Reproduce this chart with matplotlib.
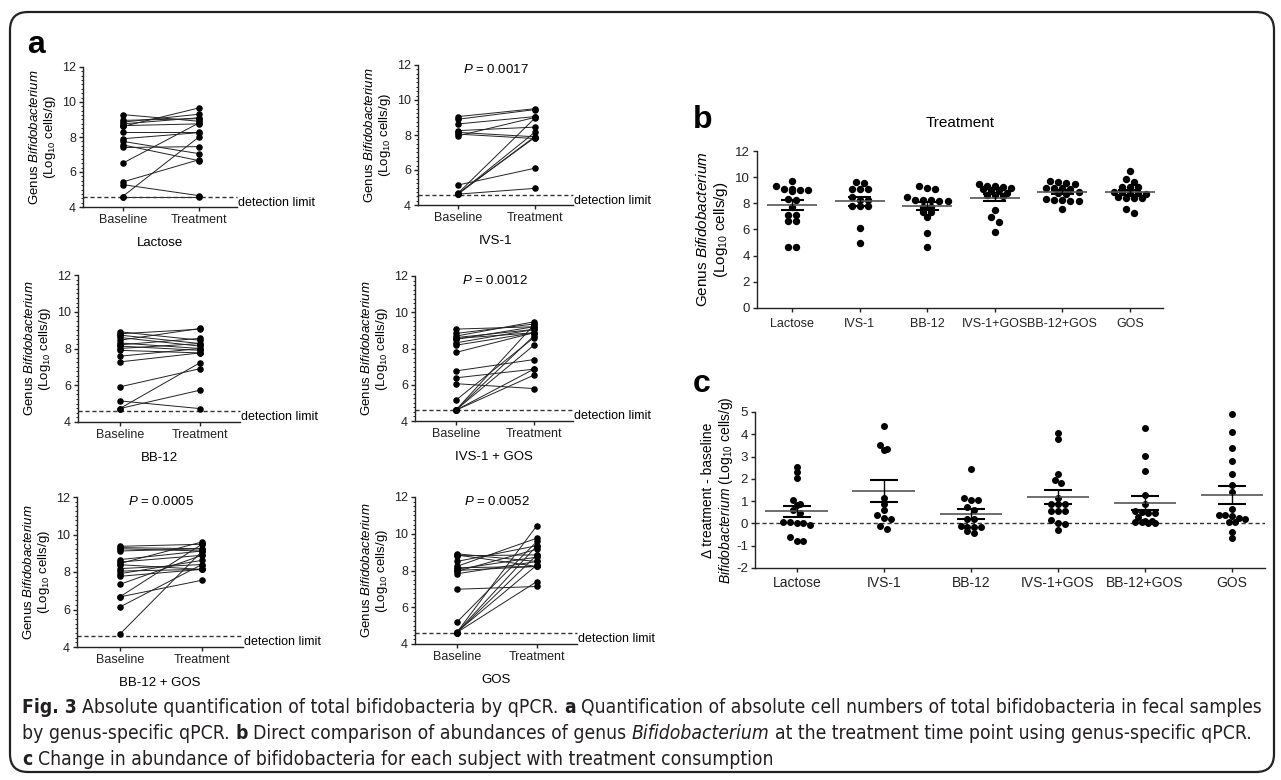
import os

import numpy as np
import matplotlib
matplotlib.use('Agg')
import matplotlib.pyplot as plt
from matplotlib import font_manager, transforms
from matplotlib.font_manager import FontProperties
from matplotlib.patches import FancyBboxPatch
from matplotlib.ticker import MultipleLocator

W, H = 1281, 780

plt.rcParams['font.family'] = ['Liberation Sans', 'DejaVu Sans']
plt.rcParams['mathtext.fontset'] = 'custom'
plt.rcParams['mathtext.rm'] = 'Liberation Sans'
plt.rcParams['mathtext.it'] = 'Liberation Sans:italic'
plt.rcParams['mathtext.bf'] = 'Liberation Sans:bold'
plt.rcParams['axes.unicode_minus'] = False

# =========================================================================== #
# Data

groups = ['Lactose', 'IVS-1', 'BB-12', 'IVS-1+GOS', 'BB-12+GOS', 'GOS']
panel_a_titles = ['Lactose', 'IVS-1', 'BB-12', 'IVS-1 + GOS', 'BB-12 + GOS', 'GOS']
p_values = [None, '0.0017', None, '0.0012', '0.0005', '0.0052']
detection_limit = 4.6

# panel a: baseline / treatment per subject
lactose_base = [9.28, 8.95, 8.85, 8.75, 8.65, 8.6, 8.3, 7.9, 7.75, 7.55, 7.4, 6.5, 5.43, 5.28, 4.6, 4.6]
lactose_treat = [8.9, 9.05, 9.3, 9.1, 8.75, 9.66, 8.3, 8.25, 7.05, 6.65, 7.45, 8.8, 6.7, 4.65, 8.0, 4.6]
ivs1_base = [9.05, 8.9, 8.63, 8.25, 8.15, 8.05, 7.95, 5.14, 4.67, 4.62, 4.62, 4.65, 4.62]
ivs1_treat = [9.5, 9.45, 9.05, 8.45, 7.9, 7.8, 9.0, 6.1, 8.95, 8.15, 7.9, 7.85, 4.95]
bb12_base = [8.91, 8.8, 8.73, 8.6, 8.45, 8.3, 8.2, 8.13, 8.0, 7.9, 7.58, 7.27, 5.91, 5.15, 4.73, 4.73]
bb12_treat = [8.45, 9.05, 8.27, 8.13, 9.09, 8.0, 8.55, 7.9, 8.27, 7.76, 8.0, 7.76, 6.9, 4.73, 7.22, 5.73]
ivs1gos_base = [9.07, 8.83, 8.68, 8.6, 8.55, 8.5, 8.31, 8.18, 7.78, 6.76, 6.38, 6.06, 5.14, 4.59, 4.59, 4.59, 4.59, 4.6]
ivs1gos_treat = [9.2, 9.35, 9.47, 9.05, 8.87, 9.2, 9.05, 8.87, 8.87, 7.39, 6.86, 5.79, 8.6, 9.3, 8.7, 6.53, 6.86, 8.18]
bb12gos_base = [9.37, 9.3, 9.24, 9.12, 8.66, 8.53, 8.45, 8.39, 8.18, 8.05, 7.91, 7.77, 7.34, 6.67, 6.67, 6.13, 4.68]
bb12gos_treat = [9.48, 9.24, 9.12, 9.24, 9.12, 8.89, 9.6, 8.14, 8.4, 8.14, 8.62, 8.14, 8.89, 7.56, 9.48, 8.4, 9.1]
gos_base = [8.91, 8.85, 8.8, 8.49, 8.22, 8.15, 8.07, 7.95, 7.82, 6.98, 5.18, 4.62, 4.62, 4.62, 4.62, 4.65, 8.0]
gos_treat = [8.49, 8.22, 8.85, 9.35, 9.76, 8.22, 8.73, 9.16, 8.49, 7.13, 9.58, 10.44, 9.35, 8.85, 7.4, 8.3, 8.22]

# panel b: treatment time point
b_lactose = [9.73, 9.35, 9.1, 9.1, 9.02, 9.02, 8.97, 8.36, 8.25, 7.75, 7.1, 7.1, 6.68, 6.68, 4.69, 4.69]
b_ivs1 = [9.6, 9.53, 9.07, 9.07, 9.07, 8.51, 8.25, 8.25, 7.8, 7.8, 7.8, 6.14, 4.94]
b_bb12 = [9.33, 9.15, 9.1, 8.46, 8.25, 8.25, 8.25, 8.2, 8.2, 7.75, 7.75, 7.35, 7.35, 6.93, 5.7, 4.69]
b_ivs1gos = [9.45, 9.33, 9.33, 9.22, 9.15, 9.07, 9.02, 9.0, 8.8, 8.6, 8.6, 8.55, 7.49, 6.93, 6.6, 5.78]
b_bb12gos = [9.7, 9.6, 9.55, 9.5, 9.2, 9.2, 9.15, 9.1, 8.85, 8.8, 8.75, 8.3, 8.25, 8.25, 8.2, 8.2, 7.6]
b_gos = [10.5, 9.83, 9.66, 9.27, 9.22, 9.22, 8.9, 8.85, 8.8, 8.8, 8.75, 8.45, 8.4, 8.4, 8.4, 7.55, 7.24]

# panel c: treatment - baseline
c_lactose = [2.53, 2.31, 2.04, 1.04, 0.89, 0.82, 0.6, 0.45, 0.07, 0.07, 0.03, 0.0, -0.07, -0.6, -0.77, -0.77]
c_ivs1 = [4.35, 3.5, 3.32, 3.28, 1.12, 0.89, 0.6, 0.37, 0.25, 0.22, -0.12, -0.27]
c_bb12 = [2.46, 1.16, 1.07, 1.04, 0.75, 0.6, 0.2, 0.18, -0.12, -0.15, -0.18, -0.18, -0.33, -0.45]
c_ivs1gos = [4.05, 3.8, 2.24, 1.94, 1.82, 1.15, 0.86, 0.86, 0.86, 0.58, 0.58, 0.58, 0.15, 0.03, -0.04, -0.3]
c_bb12gos = [4.28, 3.01, 2.34, 1.27, 0.89, 0.55, 0.5, 0.45, 0.45, 0.3, 0.12, 0.1, 0.06, 0.06, 0.0, 0.0]
c_gos = [4.92, 4.1, 3.4, 2.8, 2.24, 1.71, 1.42, 0.64, 0.37, 0.37, 0.33, 0.25, 0.18, 0.07, 0.07, -0.39, -0.64]

paired = [
    (lactose_base, lactose_treat), (ivs1_base, ivs1_treat),
    (bb12_base, bb12_treat), (ivs1gos_base, ivs1gos_treat),
    (bb12gos_base, bb12gos_treat), (gos_base, gos_treat),
]
b_values = [b_lactose, b_ivs1, b_bb12, b_ivs1gos, b_bb12gos, b_gos]
c_values = [c_lactose, c_ivs1, c_bb12, c_ivs1gos, c_bb12gos, c_gos]

caption = [
    [('Fig. 3', 'bold'),
     ('Absolute quantification of total bifidobacteria by qPCR.', 'normal'),
     ('a', 'bold'),
     ('Quantification of absolute cell numbers of total bifidobacteria in fecal samples', 'normal')],
    [('by genus-specific qPCR.', 'normal'),
     ('b', 'bold'),
     ('Direct comparison of abundances of genus', 'normal'),
     ('Bifidobacterium', 'italic'),
     ('at the treatment time point using genus-specific qPCR.', 'normal')],
    [('c', 'bold'),
     ('Change in abundance of bifidobacteria for each subject with treatment consumption', 'normal')],
]

# =========================================================================== #
# Helpers

fig = plt.figure(figsize=(W / 100, H / 100), dpi=100)

bg = fig.add_axes([0, 0, 1, 1], zorder=-1)
bg.set_xlim(0, W)
bg.set_ylim(H, 0)
bg.axis('off')


def axes_px(left, top, right, bottom):
    return fig.add_axes([left / W, 1 - bottom / H, (right - left) / W, (bottom - top) / H])


def style(ax, labelsize):
    for side in ['top', 'right']:
        ax.spines[side].set_visible(False)
    for side in ['left', 'bottom']:
        ax.spines[side].set_linewidth(1.0)
        ax.spines[side].set_color('#222222')
    ax.tick_params(direction='out', length=3, width=1, labelsize=labelsize,
                   pad=2, colors='#222222')
    ax.patch.set_alpha(0)


def swarm(values, center, row_height, step):
    vals = np.asarray(values, float)
    order = np.argsort(vals)[::-1]
    xs = np.empty_like(vals)
    row = []

    def flush(row):
        k = len(row)
        for j, idx in enumerate(row):
            xs[idx] = center + (j - (k - 1) / 2) * step

    for idx in order:
        if row and vals[row[0]] - vals[idx] > row_height:
            flush(row)
            row = []
        row.append(idx)
    if row:
        flush(row)
    return xs


ylabel_a = 'Genus $\\mathit{Bifidobacterium}$\n(Log$_{10}$ cells/g)'

# =========================================================================== #
# Panel a

a_rects = [
    (83, 67, 237, 207), (418, 65, 573, 205),
    (78, 275, 240, 422), (415, 276, 573, 421),
    (77, 497, 243, 647), (415, 497, 577, 644),
]

for (base, treat), rect, title, p in zip(paired, a_rects, panel_a_titles, p_values):
    ax = axes_px(*rect)
    style(ax, 9)
    for b, t in zip(base, treat):
        ax.plot([0, 1], [b, t], color='#222222', lw=0.7, zorder=2)
    ax.plot(np.zeros(len(base)), base, 'o', ms=3.7, color='k', zorder=3, clip_on=False)
    ax.plot(np.ones(len(treat)), treat, 'o', ms=3.7, color='k', zorder=3, clip_on=False)
    ax.axhline(detection_limit, ls=(0, (3, 2)), color='#333333', lw=1.0, clip_on=False)
    trans = transforms.blended_transform_factory(ax.transAxes, ax.transData)
    ax.text(1.005, 4.25, 'detection limit', transform=trans, ha='left', va='center',
            fontsize=9, clip_on=False)
    if p:
        ax.text(0.5, 11.75, '$P$ = ' + p, ha='center', va='center', fontsize=9.5)
    ax.set_xlim(-0.52, 1.5)
    ax.set_ylim(4, 12)
    ax.set_yticks([4, 6, 8, 10, 12])
    ax.yaxis.set_minor_locator(MultipleLocator(0.25))
    ax.tick_params(axis='y', which='minor', length=1.5, width=0.6)
    ax.set_xticks([0, 1])
    ax.set_xticklabels(['Baseline', 'Treatment'])
    ax.set_ylabel(ylabel_a, fontsize=9.5, linespacing=1.1, labelpad=3)
    ax.set_xlabel(title, fontsize=9.5, labelpad=8)

bg.text(27, 53, 'a', fontsize=23, fontweight='bold', ha='left', va='baseline')

# =========================================================================== #
# Panel b

axb = axes_px(757, 151, 1163, 308)
style(axb, 9.5)
for i, vals in enumerate(b_values):
    pos = i + 1
    xs = swarm(vals, pos, 0.35, 0.12)
    axb.plot(xs, vals, 'o', ms=4.3, color='k', zorder=3, clip_on=False)
    m = np.mean(vals)
    se = np.std(vals, ddof=1) / np.sqrt(len(vals))
    axb.hlines(m, pos - 0.37, pos + 0.37, color='#555555', lw=1.2, zorder=4)
    axb.hlines([m - se, m + se], pos - 0.17, pos + 0.17, color='k', lw=1.5, zorder=4)
    axb.vlines(pos, m - se, m + se, color='k', lw=1.0, zorder=4)
axb.set_xlim(0.48, 6.49)
axb.set_ylim(0, 12)
axb.set_yticks(range(0, 13, 2))
axb.set_xticks(range(1, 7))
axb.set_xticklabels(groups, fontsize=9)
axb.tick_params(axis='x', pad=4)
axb.set_ylabel(ylabel_a, fontsize=11, linespacing=1.1, labelpad=4)

bg.text(693, 128, 'b', fontsize=23, fontweight='bold', ha='left', va='baseline')
bg.text(960, 123, 'Treatment', fontsize=11, ha='center', va='center')

# =========================================================================== #
# Panel c

axc = axes_px(755, 412, 1265, 568)
style(axc, 9.5)
axc.axhline(0, ls=(0, (3, 2)), color='#333333', lw=1.0, zorder=1)
for i, vals in enumerate(c_values):
    pos = i + 1
    xs = swarm(vals, pos, 0.2, 0.077)
    axc.plot(xs, vals, 'o', ms=4.0, color='k', zorder=3, clip_on=False)
    m = np.mean(vals)
    se = np.std(vals, ddof=1) / np.sqrt(len(vals))
    axc.hlines(m, pos - 0.36, pos + 0.36, color='#555555', lw=1.2, zorder=4)
    axc.hlines([m - se, m + se], pos - 0.16, pos + 0.16, color='k', lw=1.5, zorder=4)
    axc.vlines(pos, m - se, m + se, color='k', lw=1.0, zorder=4)
axc.set_xlim(0.52, 6.38)
axc.set_ylim(-2, 5)
axc.set_yticks(range(-2, 6))
axc.set_xticks(range(1, 7))
axc.set_xticklabels(groups, fontsize=10)
axc.tick_params(axis='x', pad=3)
axc.set_ylabel('\u0394 treatment - baseline\n$\\mathit{Bifidobacterium}$ (Log$_{10}$ cells/g)',
               fontsize=10, linespacing=1.1, labelpad=1)

bg.text(693, 392, 'c', fontsize=23, fontweight='bold', ha='left', va='baseline')

# =========================================================================== #
# Frame and caption

bg.add_patch(FancyBboxPatch((10, 12), 1264, 760,
                            boxstyle='round,pad=0,rounding_size=18',
                            fill=False, ec='#222222', lw=1.6))

# narrow caption face if one is installed
font_files = {os.path.basename(f.fname): f.fname for f in font_manager.fontManager.ttflist}
narrow_sets = [
    {'normal': 'LiberationSansNarrow-Regular.ttf', 'bold': 'LiberationSansNarrow-Bold.ttf',
     'italic': 'LiberationSansNarrow-Italic.ttf'},
    {'normal': 'DejaVuSansCondensed.ttf', 'bold': 'DejaVuSansCondensed-Bold.ttf',
     'italic': 'DejaVuSansCondensed-Oblique.ttf'},
]
cap_fonts = None
for fset in narrow_sets:
    if all(v in font_files for v in fset.values()):
        cap_fonts = {k: font_files[v] for k, v in fset.items()}
        break


def cap_prop(kind, size):
    if cap_fonts:
        return FontProperties(fname=cap_fonts[kind], size=size)
    if kind == 'bold':
        return FontProperties(family='Liberation Sans', weight='bold', size=size)
    if kind == 'italic':
        return FontProperties(family='Liberation Sans', style='italic', size=size)
    return FontProperties(family='Liberation Sans', size=size)


renderer = fig.canvas.get_renderer()


def draw_runs(x0, y, runs, size):
    p1 = bg.text(0, 0, 'a a', fontproperties=cap_prop('normal', size))
    p2 = bg.text(0, 0, 'aa', fontproperties=cap_prop('normal', size))
    space = p1.get_window_extent(renderer).width - p2.get_window_extent(renderer).width
    p1.remove()
    p2.remove()
    x = x0
    texts = []
    for i, (s, kind) in enumerate(runs):
        if i:
            x += space
        t = bg.text(x, y, s, fontproperties=cap_prop(kind, size),
                    ha='left', va='baseline', color='#231f20')
        x += t.get_window_extent(renderer).width
        texts.append(t)
    return texts, x - x0


probe, width = draw_runs(22, 713, caption[0], 12)
for t in probe:
    t.remove()
cap_size = 12 * 1238 / width

for runs, y in zip(caption, [713, 739, 765]):
    draw_runs(22, y, runs, cap_size)

fig.savefig('out.png', dpi=100)
